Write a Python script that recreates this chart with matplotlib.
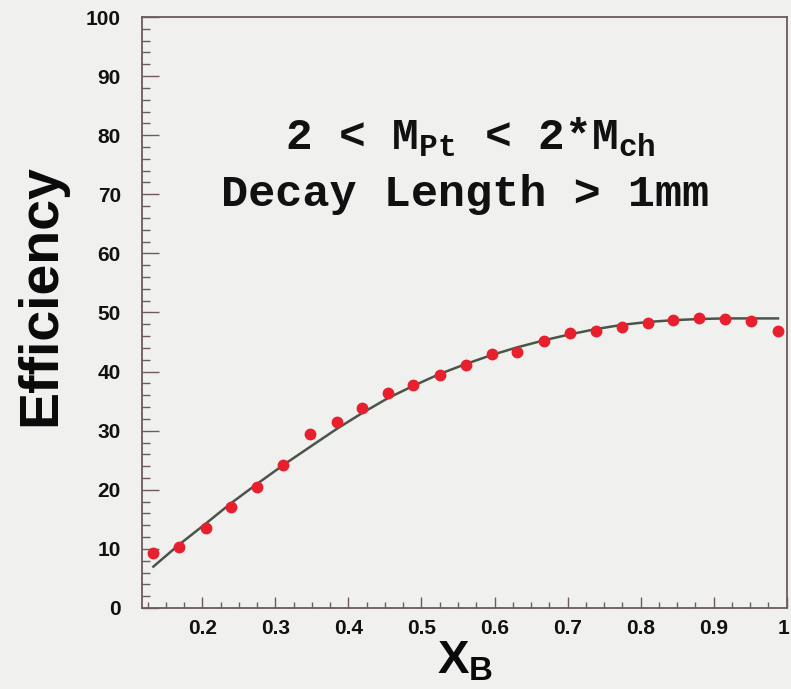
import numpy as np
import matplotlib
matplotlib.use("Agg")
import matplotlib.pyplot as plt
import matplotlib.transforms as mtransforms
from matplotlib.ticker import MultipleLocator, FixedLocator

# ---- data ----
xb = [0.133, 0.168, 0.205, 0.239, 0.275, 0.311, 0.348, 0.384, 0.419, 0.454,
      0.489, 0.525, 0.561, 0.596, 0.631, 0.668, 0.703, 0.739, 0.774, 0.810,
      0.845, 0.880, 0.916, 0.951, 0.988]
eff = [9.3, 10.4, 13.5, 17.1, 20.4, 24.2, 29.4, 31.4, 33.8, 36.3,
       37.7, 39.5, 41.2, 42.9, 43.3, 45.2, 46.6, 46.9, 47.6, 48.3,
       48.7, 49.0, 48.9, 48.6, 46.8]
fit = [7.0, 10.7, 14.3, 17.7, 21.0, 24.2, 27.3, 30.3, 33.0, 35.5,
       37.6, 39.6, 41.3, 42.8, 44.1, 45.3, 46.3, 47.2, 47.9, 48.4,
       48.7, 48.9, 49.0, 49.0, 49.0]
xticks = [0.2, 0.3, 0.4, 0.5, 0.6, 0.7, 0.8, 0.9, 1.0]
xticklabels = ["0.2", "0.3", "0.4", "0.5", "0.6", "0.7", "0.8", "0.9", "1"]
yticks = [0, 10, 20, 30, 40, 50, 60, 70, 80, 90, 100]

plt.rcParams['mathtext.fontset'] = 'custom'
plt.rcParams['mathtext.rm'] = 'Liberation Mono:bold'
plt.rcParams['mathtext.it'] = 'Liberation Mono:bold'
plt.rcParams['mathtext.bf'] = 'Liberation Mono:bold'
plt.rcParams['mathtext.sf'] = 'Liberation Sans:bold'

bg = '#f0f0ee'
fig = plt.figure(figsize=(7.91, 6.89), dpi=100, facecolor=bg)
ax = fig.add_axes([0.1791, 0.1176, 0.8155, 0.8577], facecolor=bg)

ax.plot(xb, fit, '-', color='#4a554a', lw=1.8, zorder=2)
ax.plot(xb, eff, 'o', color='#e8202e', ms=7.5, mec='#e8202e', zorder=3, ls='none')

ax.set_xlim(0.117, 1.0)
ax.set_ylim(0, 100)

axc = '#6e5a5a'
for s in ax.spines.values():
    s.set_color(axc)
    s.set_linewidth(1.3)

ax.xaxis.set_major_locator(FixedLocator(xticks))
ax.set_xticklabels(xticklabels)
ax.xaxis.set_minor_locator(MultipleLocator(0.025))
ax.yaxis.set_major_locator(FixedLocator(yticks))
ax.yaxis.set_minor_locator(MultipleLocator(2))

ax.tick_params(which='both', direction='in', top=False, right=False, colors=axc)
ax.tick_params(axis='x', which='major', length=8, width=1, pad=8)
ax.tick_params(axis='x', which='minor', length=4, width=1)
ax.tick_params(axis='y', which='major', length=12, width=1, pad=15)
ax.tick_params(axis='y', which='minor', length=6, width=1)
for lab in ax.get_xticklabels() + ax.get_yticklabels():
    lab.set_fontfamily('Liberation Sans')
    lab.set_fontweight('bold')
    lab.set_fontsize(15)
    lab.set_color('#111111')

# keep the last x tick label "1" inside the figure edge
last = ax.get_xticklabels()[-1]
last.set_transform(last.get_transform() +
                   mtransforms.ScaledTranslation(-3/100, 0, fig.dpi_scale_trans))

fig.text(0.052, 0.572, 'Efficiency', rotation=90, ha='center', va='center',
         fontsize=40, fontweight='bold', family='Liberation Sans', color='#0a0a0a')
fig.text(0.588, 0.040, r'X$_{\mathsf{B}}$', ha='center', va='center',
         fontsize=34, fontweight='bold', family='Liberation Sans', color='#0a0a0a')

ax.text(0.509, 0.796, r'2 < M$_{\rm Pt}$ < 2*M$_{\rm ch}$', transform=ax.transAxes,
        ha='center', va='center', fontsize=32, family='Liberation Mono',
        fontweight='bold', color='#111111')
ax.text(0.502, 0.700, 'Decay Length > 1mm', transform=ax.transAxes,
        ha='center', va='center', fontsize=32.5, family='Liberation Mono',
        fontweight='bold', color='#111111')

fig.savefig('out.png', dpi=100, facecolor=bg)
